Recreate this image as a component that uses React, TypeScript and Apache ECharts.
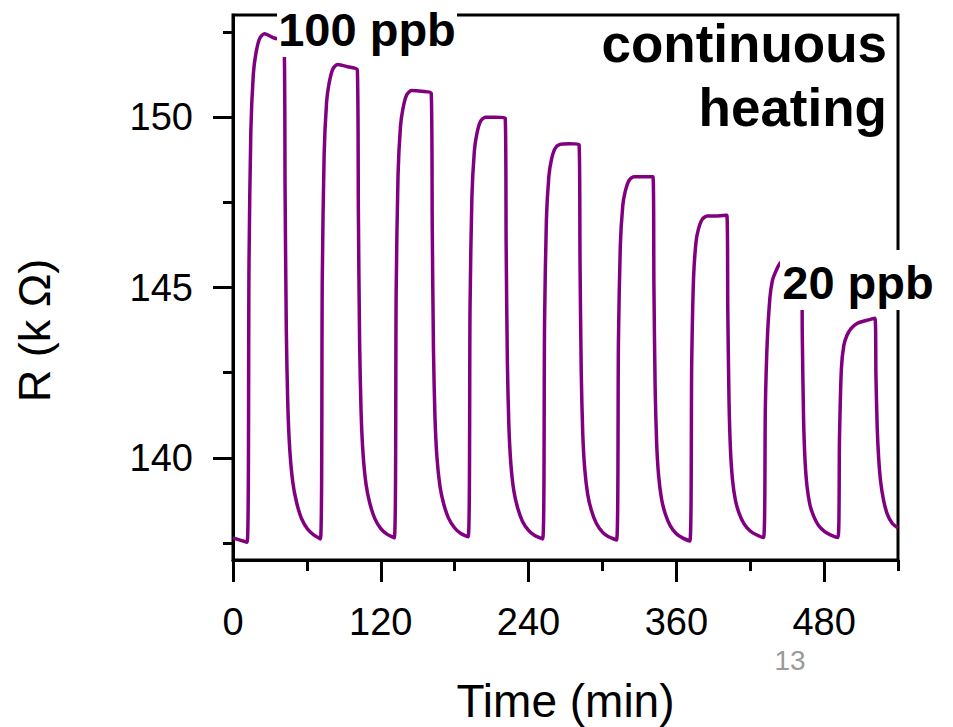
import React, { useEffect, useRef } from "react";
import * as echarts from "echarts";

// Time (min) vs R (kΩ)
const baseline: [number, number][] = [
  [0, 137.65], [11.5, 137.52],
];
const cycle1: [number, number][] = [
  [13.0, 145.73], [14.5, 149.61], [16.5, 151.26], [18.5, 151.85], [21.5, 152.3], [25.5, 152.45], [33, 152.33], [41.5, 152.2],
  [42.3, 147.83], [43.3, 143.74], [44.5, 141.56], [46.1, 140.24], [48.5, 139.3], [51.5, 138.71], [55.5, 138.23], [60.5, 137.91], [65.5, 137.74], [71, 137.62],
];
const cycle2: [number, number][] = [
  [72.5, 145.28], [74, 148.9], [76, 150.44], [78, 150.99], [81, 151.41], [85, 151.55], [93, 151.48], [101, 151.38],
  [101.8, 147.26], [102.8, 143.42], [104, 141.36], [105.6, 140.12], [108, 139.23], [111, 138.68], [115, 138.23], [120, 137.92], [125, 137.76], [131, 137.65],
];
const cycle3: [number, number][] = [
  [132.5, 144.87], [134, 148.29], [136, 149.73], [138, 150.25], [141, 150.65], [145, 150.78], [153, 150.76], [161, 150.7],
  [161.8, 146.79], [162.8, 143.15], [164, 141.2], [165.6, 140.02], [168, 139.18], [171, 138.66], [175, 138.23], [180, 137.94], [185, 137.78], [191, 137.68],
];
const cycle4: [number, number][] = [
  [192.5, 144.46], [194, 147.66], [196, 149.01], [198, 149.51], [201, 149.88], [205, 150.0], [213, 150.0], [221, 149.98],
  [221.8, 146.27], [222.8, 142.81], [224, 140.96], [225.6, 139.84], [228, 139.04], [231, 138.55], [235, 138.14], [240, 137.87], [245, 137.72], [251.5, 137.62],
];
const cycle5: [number, number][] = [
  [253, 143.99], [254.5, 147.0], [256.5, 148.27], [258.5, 148.74], [261.5, 149.08], [265.5, 149.2], [273, 149.22], [281, 149.2],
  [281.8, 145.72], [282.8, 142.47], [284, 140.72], [285.6, 139.68], [288, 138.93], [291, 138.46], [295, 138.08], [300, 137.82], [305, 137.68], [311.5, 137.59],
];
const cycle6: [number, number][] = [
  [313, 143.45], [314.5, 146.22], [316.5, 147.4], [318.5, 147.82], [321.5, 148.14], [325.5, 148.25], [333, 148.25], [341, 148.25],
  [341.8, 145.04], [342.8, 142.05], [344, 140.45], [345.6, 139.48], [348, 138.79], [351, 138.36], [355, 138.01], [360, 137.77], [365, 137.65], [371, 137.56],
];
const cycle7: [number, number][] = [
  [372.5, 142.81], [374, 145.29], [376, 146.34], [378, 146.72], [381, 147.0], [385, 147.1], [393, 147.1], [401, 147.12],
  [401.8, 144.28], [402.8, 141.63], [404, 140.21], [405.6, 139.36], [408, 138.75], [411, 138.37], [415, 138.06], [420, 137.85], [425, 137.74], [430.8, 137.66],
];
const cycle8: [number, number][] = [
  [432.3, 141.5], [433.8, 143.4], [436, 144.7], [438, 145.2], [440.5, 145.45], [444, 145.7], [452, 145.95], [461.5, 146.05],
  [462.3, 143.53], [463.3, 141.18], [464.5, 139.93], [466.1, 139.17], [468.5, 138.62], [471.5, 138.29], [475.5, 138.01], [480.5, 137.83], [485.5, 137.73], [491.3, 137.66],
];
const cycle9: [number, number][] = [
  [492.5, 140.6], [494, 142.6], [496, 143.3], [498.6, 143.6], [502, 143.8], [507, 143.95], [514, 144.03], [521.3, 144.1],
  [522.1, 142.4], [523.1, 140.9], [524.3, 140.0], [525.9, 139.3], [528.3, 138.75], [531.3, 138.35], [535.3, 138.08], [540, 137.94],
];

const xMajorTicks = [0, 120, 240, 360, 480];
const xMinorTicks = [60, 180, 300, 420, 540];
const yMajorTicks = [140, 145, 150];
const yMinorTicks = [137.5, 142.5, 147.5, 152.5];

const xName = "Time (min)";
const yName = "R (k Ω)";
const labelHigh = "100 ppb";
const labelLow = "20 ppb";
const labelMode1 = "continuous";
const labelMode2 = "heating";
const pageNumber = "13";

const FONT = "'Liberation Sans', Arial, Helvetica, sans-serif";
const PURPLE = "#800080";

export default function App() {
  const ref = useRef<HTMLDivElement>(null);
  useEffect(() => {
    if (!ref.current) return;
    const chart = echarts.init(ref.current, null, { renderer: "svg" });
    const data = [
      ...baseline, ...cycle1, ...cycle2, ...cycle3, ...cycle4, ...cycle5,
      ...cycle6, ...cycle7, ...cycle8, ...cycle9,
    ];
    const tickLine = { color: "#000", width: 3 };
    chart.setOption({
      animation: false,
      backgroundColor: "#fff",
      grid: {
        left: 233, right: 55, top: 15, bottom: 167,
        show: true, borderColor: "#000", borderWidth: 3, backgroundColor: "transparent",
        outerBoundsMode: "none",
      },
      xAxis: [
        {
          type: "value", min: 0, max: 540, position: "bottom",
          name: xName, nameLocation: "middle", nameGap: 121,
          nameTextStyle: { fontFamily: FONT, fontSize: 46, lineHeight: 40, color: "#000" },
          axisLine: { show: true, onZero: false, lineStyle: tickLine },
          axisTick: { show: true, inside: false, length: 22, lineStyle: tickLine, customValues: xMajorTicks },
          axisLabel: { show: true, margin: 43, fontFamily: FONT, fontSize: 38, color: "#000", customValues: xMajorTicks },
          splitLine: { show: false },
        },
        {
          type: "value", min: 0, max: 540, position: "bottom", offset: 0,
          axisLine: { show: false },
          axisTick: { show: true, inside: false, length: 11, lineStyle: tickLine, customValues: xMinorTicks },
          axisLabel: { show: false },
          splitLine: { show: false },
        },
      ],
      yAxis: [
        {
          type: "value", min: 137, max: 153, position: "left",
          name: yName, nameLocation: "middle", nameGap: 176,
          nameTextStyle: { fontFamily: FONT, fontSize: 45, color: "#000", padding: [0, 86, 0, 0] },
          axisLine: { show: true, onZero: false, lineStyle: tickLine },
          axisTick: { show: true, inside: false, length: 20, lineStyle: tickLine, customValues: yMajorTicks },
          axisLabel: { show: true, margin: 40, fontFamily: FONT, fontSize: 38, color: "#000", customValues: yMajorTicks },
          splitLine: { show: false },
        },
        {
          type: "value", min: 137, max: 153, position: "left", offset: 0,
          axisLine: { show: false },
          axisTick: { show: true, inside: false, length: 10, lineStyle: tickLine, customValues: yMinorTicks },
          axisLabel: { show: false },
          splitLine: { show: false },
        },
      ],
      series: [
        {
          type: "line", xAxisIndex: 0, yAxisIndex: 0, data,
          showSymbol: false, symbol: "none", smooth: 0.25,
          lineStyle: { color: PURPLE, width: 3.5 },
          z: 5,
        },
      ],
      graphic: {
        z: 100,
        elements: [
          { type: "rect", z: 100, shape: { x: 277, y: 0, width: 180, height: 57 }, style: { fill: "#fff" } },
          {
            type: "text", z: 101, x: 367, y: 29,
            style: { text: labelHigh, fontFamily: FONT, fontWeight: "bold", fontSize: 47, fill: "#000", align: "center", verticalAlign: "middle" },
          },
          { type: "rect", z: 100, shape: { x: 780, y: 250, width: 158, height: 60 }, style: { fill: "#fff" } },
          {
            type: "text", z: 101, x: 858, y: 282,
            style: { text: labelLow, fontFamily: FONT, fontWeight: "bold", fontSize: 47, fill: "#000", align: "center", verticalAlign: "middle" },
          },
          {
            type: "text", z: 101, x: 887, y: 43,
            style: { text: labelMode1, fontFamily: FONT, fontWeight: "bold", fontSize: 53, fill: "#000", align: "right", verticalAlign: "middle" },
          },
          {
            type: "text", z: 101, x: 887, y: 107,
            style: { text: labelMode2, fontFamily: FONT, fontWeight: "bold", fontSize: 53, fill: "#000", align: "right", verticalAlign: "middle" },
          },
          {
            type: "text", z: 101, x: 790, y: 660,
            style: { text: pageNumber, fontFamily: FONT, fontSize: 28, fill: "#9a9a9a", align: "center", verticalAlign: "middle" },
          },
        ],
      },
    });
    return () => chart.dispose();
  }, []);
  return <div ref={ref} style={{ width: 953, height: 727, position: "absolute", left: 0, top: 0 }} />;
}
